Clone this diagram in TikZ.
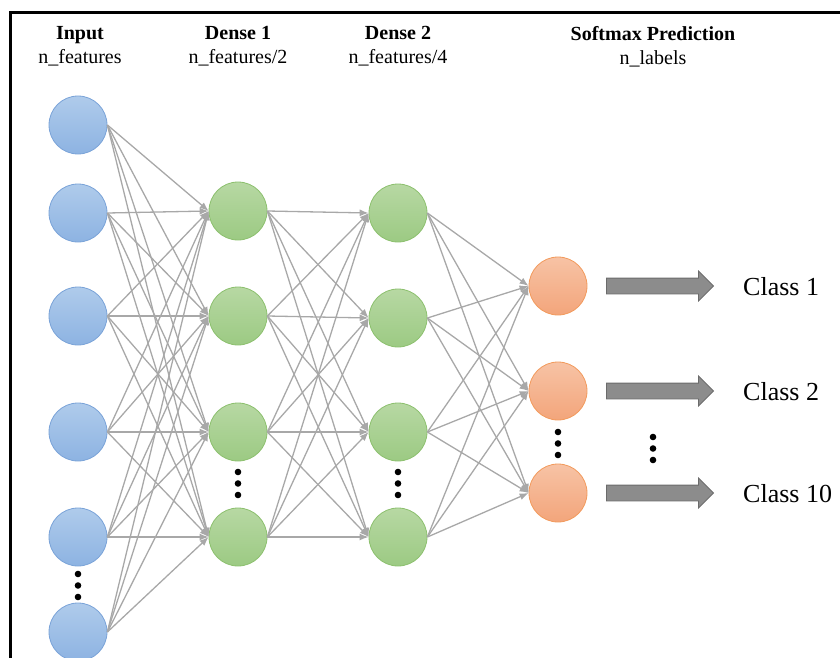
\documentclass[tikz,border=0pt]{standalone}
\usepackage{fontspec}
\setmainfont{Liberation Serif}
\usetikzlibrary{positioning,shapes,arrows.meta}
\definecolor{inlight}{HTML}{AFCBEB}
\definecolor{indark}{HTML}{8DB3E2}
\definecolor{inedge}{HTML}{7AA3D8}
\definecolor{hidlight}{HTML}{B7D8A3}
\definecolor{hiddark}{HTML}{9CCA83}
\definecolor{hidedge}{HTML}{8CC06E}
\definecolor{outlight}{HTML}{F7C3A5}
\definecolor{outdark}{HTML}{F3A57B}
\definecolor{outedge}{HTML}{F29A5C}
\definecolor{wire}{HTML}{A8A8A8}
\definecolor{blockfill}{HTML}{8C8C8C}
\definecolor{blockedge}{HTML}{6B6B6B}

\begin{document}
\begin{tikzpicture}[x=1pt,y=-1pt,>={Latex[length=9pt,width=7pt]},
	unit/.style={circle,minimum size=58pt,inner sep=0pt,line width=0.8pt},
	inp/.style={unit,draw=inedge,top color=inlight,bottom color=indark},
	hid/.style={unit,draw=hidedge,top color=hidlight,bottom color=hiddark},
	outp/.style={unit,draw=outedge,top color=outlight,bottom color=outdark},
	conn/.style={->,draw=wire,line width=1.3pt},
	ttl/.style={font=\fontsize{20}{24}\selectfont\bfseries,anchor=base,inner sep=0pt},
	sub/.style={font=\fontsize{20}{24}\selectfont,anchor=base,inner sep=0pt},
	cls/.style={font=\fontsize{26}{30}\selectfont,anchor=base west,inner sep=0pt},
	block/.style={single arrow,minimum height=107pt,minimum width=29pt,
		inner xsep=0pt,inner ysep=7.5pt,
		single arrow head extend=7pt,single arrow head indent=0pt,
		fill=blockfill,draw=blockedge,line width=0.8pt}]

	\useasboundingbox (0,0) rectangle (840,658);
	\draw[line width=2.2pt] (10.5,12.5) rectangle (860,680);

	%the layers
	\foreach \y [count=\i] in {125,213,316,432,537,632}
		\node[inp] (in\i) at (78,\y) {};
	\foreach \y [count=\i] in {211,316,432,537}
		\node[hid] (da\i) at (238,\y) {};
	\foreach \y [count=\i] in {213,318,432,537}
		\node[hid] (db\i) at (398,\y) {};
	\foreach \y [count=\i] in {286,391,493}
		\node[outp] (sm\i) at (558,\y) {};

	%the weights
	\foreach \i in {1,...,6}
		\foreach \j in {1,...,4}
			\draw[conn] (in\i.east) -- (da\j.west);
	\foreach \i in {1,...,4}
		\foreach \j in {1,...,4}
			\draw[conn] (da\i.east) -- (db\j.west);
	\foreach \i in {1,...,4}
		\foreach \j in {1,...,3}
			\draw[conn] (db\i.east) -- (sm\j.west);

	% headings
	\node[ttl] (tin) at (80,40) {Input};
	\node[sub] (nin) at (80,64) {n\_features};
	\node[ttl] (tda) at (238,40) {Dense 1};
	\node[sub] (nda) at (238,64) {n\_features/2};
	\node[ttl] (tdb) at (398,40) {Dense 2};
	\node[sub] (ndb) at (398,64) {n\_features/4};
	\node[ttl] (tsm) at (653,41) {Softmax Prediction};
	\node[sub] (nsm) at (653,65) {n\_labels};

	% prediction to class
	\foreach \y/\c [count=\i] in {286/1,391/2,493/10} {
		\node[block] (ar\i) at (656,\y) {};
		\node[cls] (cl\i) at (743,\y+9.5) {Class \c};
	}

	% skipped units
	\foreach \x/\y in {78/574,238/472,398/472,558/432,653/437}
		\foreach \k in {0,1,2}
			\fill (\x,\y+11.5*\k) circle (3.3pt);

\end{tikzpicture}
\end{document}
